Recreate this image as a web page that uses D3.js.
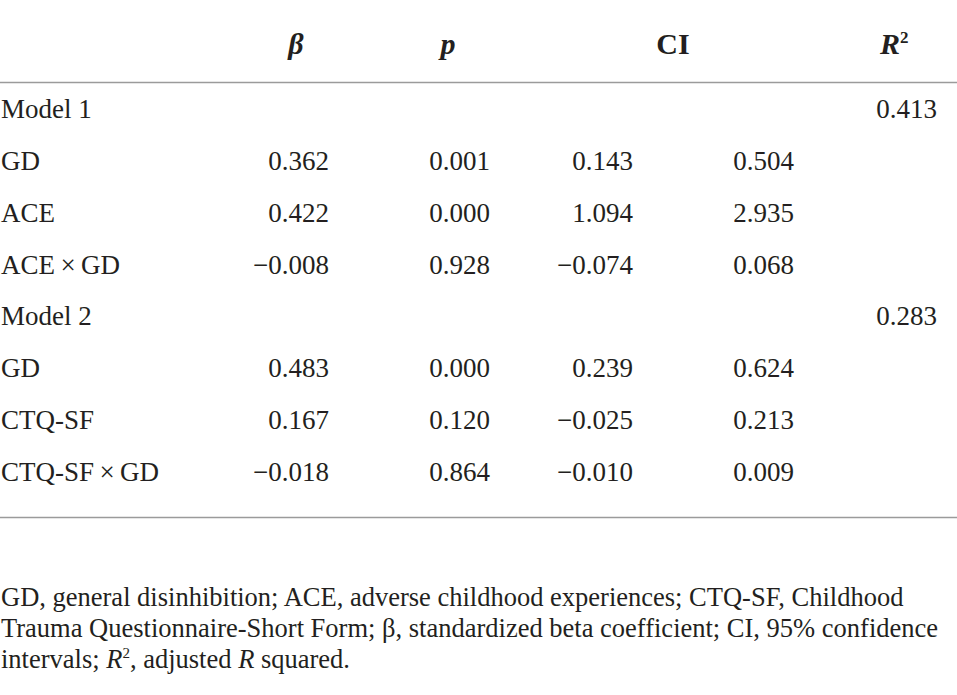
<!DOCTYPE html>
<html><head><meta charset="utf-8">
<script src="https://cdn.jsdelivr.net/npm/d3@7"></script>
<style>
html,body{margin:0;padding:0;background:#fff;}
svg{display:block;}
</style></head>
<body>
<svg id="chart" width="957" height="695"></svg>
<script>
// ---- data ----
const rowLabels = ["Model 1", "GD", "ACE", "ACE\u2009\u00d7\u2009GD", "Model 2", "GD", "CTQ-SF", "CTQ-SF\u2009\u00d7\u2009GD"];
const betaValues = [null, "0.362", "0.422", "\u22120.008", null, "0.483", "0.167", "\u22120.018"];
const pValues = [null, "0.001", "0.000", "0.928", null, "0.000", "0.120", "0.864"];
const ciLowValues = [null, "0.143", "1.094", "\u22120.074", null, "0.239", "\u22120.025", "\u22120.010"];
const ciHighValues = [null, "0.504", "2.935", "0.068", null, "0.624", "0.213", "0.009"];
const r2Values = ["0.413", null, null, null, "0.283", null, null, null];
const footnoteLines = [
  [{t:"GD, general disinhibition; ACE, adverse childhood experiences; CTQ-SF, Childhood"}],
  [{t:"Trauma Questionnaire-Short Form; \u03b2, standardized beta coefficient; CI, 95% confidence"}],
  [{t:"intervals; "},{t:"R",i:true},{t:"2",sup:true},{t:", adjusted "},{t:"R",i:true},{t:" squared."}]
];

// ---- layout ----
const W = 957, H = 695;
const font = "'Liberation Serif','Times New Roman',serif";
const ink = "#231f20";
const fs = 27;
const svg = d3.select("#chart");

const y = d3.scalePoint().domain(d3.range(rowLabels.length)).range([118, 481]);

// header
const header = svg.append("g").attr("font-family", font).attr("font-size", 30).attr("fill", ink).attr("font-weight", "bold");
header.append("text").attr("x", 296).attr("y", 54).attr("text-anchor","middle").attr("font-style","italic").text("\u03b2");
header.append("text").attr("x", 448).attr("y", 54).attr("text-anchor","middle").attr("font-style","italic").text("p");
header.append("text").attr("x", 673).attr("y", 54).attr("text-anchor","middle").text("CI");
const r2h = header.append("text").attr("x", 880).attr("y", 54);
r2h.append("tspan").attr("font-style","italic").text("R");
r2h.append("tspan").attr("font-size", 17).attr("dy", -11).text("2");

// rules
svg.append("line").attr("x1",0).attr("x2",W).attr("y1",82.5).attr("y2",82.5).attr("stroke","#9b9b9b").attr("stroke-width",1.6);
svg.append("line").attr("x1",0).attr("x2",W).attr("y1",517.5).attr("y2",517.5).attr("stroke","#9b9b9b").attr("stroke-width",1.6);

// body
const body = svg.append("g").attr("font-family", font).attr("font-size", fs).attr("fill", ink);
body.selectAll("text.lab").data(rowLabels).join("text").attr("class","lab")
  .attr("x", 1).attr("y", (d,i)=>y(i)).text(d=>d);

const cols = [
  {vals: betaValues, x: 329},
  {vals: pValues, x: 490},
  {vals: ciLowValues, x: 633},
  {vals: ciHighValues, x: 794},
  {vals: r2Values, x: 937}
];
cols.forEach((c, ci) => {
  body.selectAll("text.c"+ci).data(c.vals.map((v,i)=>({v,i})).filter(d=>d.v!==null)).join("text")
    .attr("class","c"+ci).attr("x", c.x).attr("y", d=>y(d.i)).attr("text-anchor","end").text(d=>d.v);
});

// footnote
const fn = svg.append("g").attr("font-family", font).attr("font-size", 26.5).attr("fill", ink);
const fy = [606, 637, 668];
footnoteLines.forEach((parts, li) => {
  const t = fn.append("text").attr("x", 1).attr("y", fy[li]);
  let pendingDy = 0;
  parts.forEach(p => {
    const s = t.append("tspan").text(p.t);
    if (p.sup) {
      s.attr("font-size", 15).attr("dy", -10);
      pendingDy = 10;
    } else {
      if (pendingDy) { s.attr("dy", pendingDy); pendingDy = 0; }
      if (p.i) s.attr("font-style","italic");
    }
  });
});
</script>
</body></html>
